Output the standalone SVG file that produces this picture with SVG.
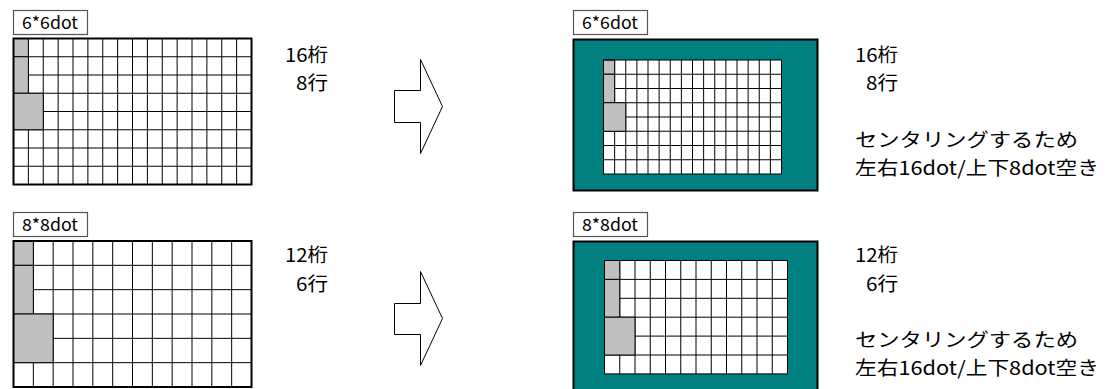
<svg xmlns="http://www.w3.org/2000/svg" width="1108" height="389" viewBox="0 0 1108 389">
<style>
.t{font-family:"Noto Sans CJK JP","Noto Sans Mono CJK JP","Liberation Sans",sans-serif;font-size:19px;font-weight:400;fill:#000}
.lb{font-family:"Noto Sans CJK JP","Noto Sans Mono CJK JP","Liberation Sans",sans-serif;font-size:17px;font-weight:400;fill:#000}
.box{fill:#fff;stroke:#555;stroke-width:1.2}
.cellbg{fill:#fff}
.gl{fill:none;stroke:#000;stroke-width:1}
.border{fill:none;stroke:#000;stroke-width:2}
.gray{fill:#c0c0c0;stroke:#000;stroke-width:1}
.teal{fill:#008080;stroke:#000;stroke-width:2}
.arrow{fill:#fff;stroke:#000;stroke-width:1}
</style>
<rect width="1108" height="389" fill="#fff"/>

<!-- Top-left: 6*6dot original -->
<g id="label-tl">
<rect class="box" x="13.5" y="10.5" width="74" height="24"/>
<text class="lb" x="22" y="28.5" textLength="56" lengthAdjust="spacingAndGlyphs">6*6dot</text>
</g>
<g id="grid-tl">
<rect class="cellbg" x="13.5" y="38.5" width="238" height="146"/>
<path class="gl" d="M28.375 38.5V184.5M43.25 38.5V184.5M58.125 38.5V184.5M73 38.5V184.5M87.875 38.5V184.5M102.75 38.5V184.5M117.625 38.5V184.5M132.5 38.5V184.5M147.375 38.5V184.5M162.25 38.5V184.5M177.125 38.5V184.5M192 38.5V184.5M206.875 38.5V184.5M221.75 38.5V184.5M236.625 38.5V184.5M13.5 56.75H251.5M13.5 75H251.5M13.5 93.25H251.5M13.5 111.5H251.5M13.5 129.75H251.5M13.5 148H251.5M13.5 166.25H251.5"/>
<rect class="gray" x="13.5" y="38.5" width="14.875" height="18.25"/>
<rect class="gray" x="13.5" y="56.75" width="14.875" height="36.5"/>
<rect class="gray" x="13.5" y="93.25" width="29.75" height="36.5"/>
<rect class="border" x="13.5" y="38.5" width="238" height="146"/>
</g>
<g id="text-tl">
<text class="t" x="285" y="61.5" textLength="43" lengthAdjust="spacingAndGlyphs">16桁</text>
<text class="t" x="296" y="89.5" textLength="32" lengthAdjust="spacingAndGlyphs">8行</text>
</g>

<!-- Bottom-left: 8*8dot original -->
<g id="label-bl">
<rect class="box" x="13.5" y="212.5" width="74" height="24"/>
<text class="lb" x="22" y="230.5" textLength="56" lengthAdjust="spacingAndGlyphs">8*8dot</text>
</g>
<g id="grid-bl">
<rect class="cellbg" x="13.5" y="241" width="238" height="146"/>
<path class="gl" d="M33.333 241V387M53.167 241V387M73 241V387M92.833 241V387M112.667 241V387M132.5 241V387M152.333 241V387M172.167 241V387M192 241V387M211.833 241V387M231.667 241V387M13.5 265.333H251.5M13.5 289.667H251.5M13.5 314H251.5M13.5 338.333H251.5M13.5 362.667H251.5"/>
<rect class="gray" x="13.5" y="241" width="19.833" height="24.333"/>
<rect class="gray" x="13.5" y="265.333" width="19.833" height="48.667"/>
<rect class="gray" x="13.5" y="314" width="39.667" height="48.667"/>
<rect class="border" x="13.5" y="241" width="238" height="146"/>
</g>
<g id="text-bl">
<text class="t" x="285" y="261.5" textLength="43" lengthAdjust="spacingAndGlyphs">12桁</text>
<text class="t" x="296" y="290.5" textLength="32" lengthAdjust="spacingAndGlyphs">6行</text>
</g>

<!-- Top-right: centred 6*6dot -->
<g id="label-tr">
<rect class="box" x="573.5" y="10.5" width="74" height="24"/>
<text class="lb" x="582" y="28.5" textLength="56" lengthAdjust="spacingAndGlyphs">6*6dot</text>
</g>
<g id="grid-tr">
<rect class="teal" x="573.5" y="39.5" width="244" height="151"/>
<rect class="cellbg" x="603.5" y="60" width="178" height="114"/>
<path class="gl" d="M614.625 60V174M625.75 60V174M636.875 60V174M648 60V174M659.125 60V174M670.25 60V174M681.375 60V174M692.5 60V174M703.625 60V174M714.75 60V174M725.875 60V174M737 60V174M748.125 60V174M759.25 60V174M770.375 60V174M603.5 74.25H781.5M603.5 88.5H781.5M603.5 102.75H781.5M603.5 117H781.5M603.5 131.25H781.5M603.5 145.5H781.5M603.5 159.75H781.5"/>
<rect class="gray" x="603.5" y="60" width="11.125" height="14.25"/>
<rect class="gray" x="603.5" y="74.25" width="11.125" height="28.5"/>
<rect class="gray" x="603.5" y="102.75" width="22.25" height="28.5"/>
<rect class="gl" x="603.5" y="60" width="178" height="114"/>
</g>
<g id="text-tr">
<text class="t" x="855" y="61.5" textLength="43" lengthAdjust="spacingAndGlyphs">16桁</text>
<text class="t" x="866" y="89.5" textLength="32" lengthAdjust="spacingAndGlyphs">8行</text>
<text class="t" x="855" y="146.5" textLength="223" lengthAdjust="spacingAndGlyphs">センタリングするため</text>
<text class="t" x="855" y="174.5" textLength="244" lengthAdjust="spacingAndGlyphs">左右16dot/上下8dot空き</text>
</g>

<!-- Bottom-right: centred 8*8dot -->
<g id="label-br">
<rect class="box" x="573.5" y="212.5" width="74" height="24"/>
<text class="lb" x="582" y="230.5" textLength="56" lengthAdjust="spacingAndGlyphs">8*8dot</text>
</g>
<g id="grid-br">
<rect class="teal" x="573.5" y="241.5" width="244" height="152"/>
<rect class="cellbg" x="604.5" y="260.5" width="183" height="113.4"/>
<path class="gl" d="M619.75 260.5V373.9M635 260.5V373.9M650.25 260.5V373.9M665.5 260.5V373.9M680.75 260.5V373.9M696 260.5V373.9M711.25 260.5V373.9M726.5 260.5V373.9M741.75 260.5V373.9M757 260.5V373.9M772.25 260.5V373.9M604.5 279.4H787.5M604.5 298.3H787.5M604.5 317.2H787.5M604.5 336.1H787.5M604.5 355H787.5"/>
<rect class="gray" x="604.5" y="260.5" width="15.25" height="18.9"/>
<rect class="gray" x="604.5" y="279.4" width="15.25" height="37.8"/>
<rect class="gray" x="604.5" y="317.2" width="30.5" height="37.8"/>
<rect class="gl" x="604.5" y="260.5" width="183" height="113.4"/>
</g>
<g id="text-br">
<text class="t" x="855" y="261.5" textLength="43" lengthAdjust="spacingAndGlyphs">12桁</text>
<text class="t" x="866" y="290.5" textLength="32" lengthAdjust="spacingAndGlyphs">6行</text>
<text class="t" x="855" y="346.5" textLength="223" lengthAdjust="spacingAndGlyphs">センタリングするため</text>
<text class="t" x="855" y="374.5" textLength="244" lengthAdjust="spacingAndGlyphs">左右16dot/上下8dot空き</text>
</g>

<g id="connectors">
<polygon class="arrow" points="394.5,90.5 420.5,90.5 420.5,59.5 442.5,106.5 420.5,153.5 420.5,122.5 394.5,122.5"/>
<polygon class="arrow" points="394.5,303.5 420.5,303.5 420.5,271.5 442.5,318.5 420.5,365.5 420.5,334.5 394.5,334.5"/>
</g>
</svg>
